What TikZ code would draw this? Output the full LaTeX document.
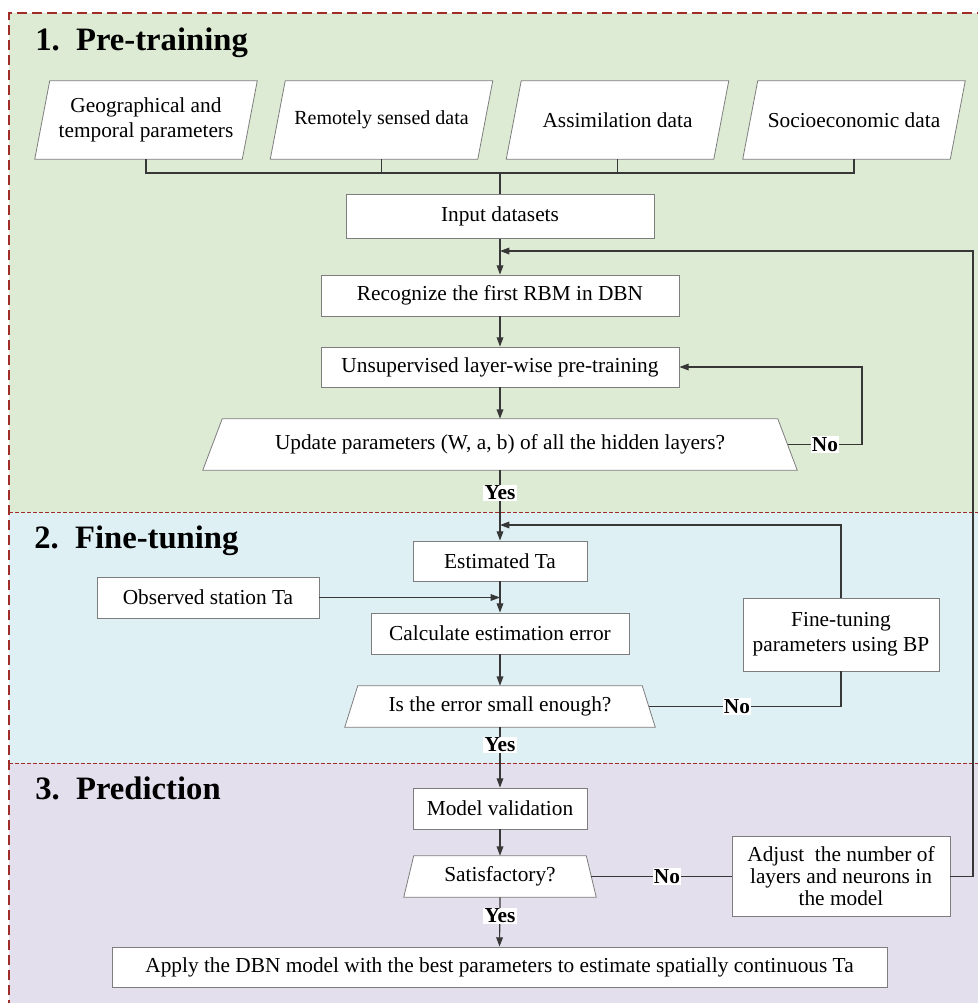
\documentclass[tikz,border=0pt]{standalone}
\usepackage{fontspec}
\setmainfont{Liberation Serif}
\usetikzlibrary{arrows.meta}
\pgfdeclarelayer{bglayer}
\pgfdeclarelayer{shplayer}
\pgfsetlayers{bglayer,shplayer,main}
\definecolor{secgreen}{RGB}{221,235,212}
\definecolor{secblue}{RGB}{223,240,245}
\definecolor{secpurple}{RGB}{227,223,236}
\definecolor{framered}{RGB}{160,45,40}
\definecolor{boxgray}{RGB}{125,125,125}
\definecolor{linegray}{RGB}{55,55,55}
\newcommand\parashape[2]{\filldraw[shp] ([shift={(-#2,0)}]#1.south west) -- ([shift={(#2,0)}]#1.north west) -- ([shift={(#2,0)}]#1.north east) -- ([shift={(-#2,0)}]#1.south east) -- cycle;}
\newcommand\trapshape[2]{\filldraw[shp] ([shift={(-#2,0)}]#1.south west) -- ([shift={(#2,0)}]#1.north west) -- ([shift={(-#2,0)}]#1.north east) -- ([shift={(#2,0)}]#1.south east) -- cycle;}
\tikzset{
 box/.style={draw=boxgray, line width=0.6pt, fill=white, inner sep=0pt, align=center, font=\fontsize{16}{18.5}\selectfont},
 bare/.style={inner sep=0pt, align=center, font=\fontsize{16}{18.5}\selectfont},
 sz/.style 2 args={minimum width=#1*0.75pt, minimum height=#2*0.75pt},
 shp/.style={draw=boxgray, line width=0.6pt, fill=white},
 conn/.style={draw=linegray, line width=0.9pt},
 arr/.style={conn, -{Triangle[length=7pt,width=5pt]}},
 lbl/.style={fill=white, inner sep=1pt, font=\fontsize{16}{18}\selectfont\bfseries},
 ttl/.style={anchor=base west, inner sep=0pt, font=\fontsize{24.5}{30}\selectfont\bfseries},
}
\begin{document}
\begin{tikzpicture}[x=0.75pt,y=-0.75pt]
\useasboundingbox (0,0) rectangle (978,1003);
\begin{pgfonlayer}{bglayer}
\fill[secgreen] (9,13) rectangle (982,512);
\fill[secblue] (9,512) rectangle (982,763);
\fill[secpurple] (9,763) rectangle (982,1010);
\draw[framered, line width=0.6pt, dash pattern=on 3pt off 1.5pt] (9,512) -- (982,512);
\draw[framered, line width=0.6pt, dash pattern=on 3pt off 1.5pt] (9,763) -- (982,763);
\draw[framered, line width=1.3pt, dash pattern=on 7.5pt off 3.75pt] (9,1010) -- (9,13) -- (982,13) -- (982,1010);
\end{pgfonlayer}

\node[ttl] (t1) at (35,50) {1.\ \ Pre-training};
\node[ttl] (t2) at (34,548) {2.\ \ Fine-tuning};
\node[ttl] (t3) at (35,799) {3.\ \ Prediction};

\node[bare, sz={207}{78}] (p1) at (146,120) {Geographical and\\temporal parameters};
\node[bare, sz={207}{78}, font=\fontsize{15}{18}\selectfont] (p2) at (381.5,120) {Remotely sensed data};
\node[bare, sz={207}{78}] (p3) at (617.5,120) {Assimilation data};
\node[bare, sz={207}{78}] (p4) at (854,120) {Socioeconomic data};

\node[box, sz={308}{44}] (input) at (500,216.5) {Input datasets};
\node[box, sz={358}{41}] (rec) at (500,295.5) {Recognize the first RBM in DBN};
\node[box, sz={358}{40}] (uns) at (500,367) {Unsupervised layer-wise pre-training};
\node[bare, sz={574.5}{51}] (upd) at (500,444.5) {Update parameters (W, a, b) of all the hidden layers?};
\node[box, sz={174}{40}] (est) at (500,561) {Estimated Ta};
\node[box, sz={222}{41}] (obs) at (208,597.5) {Observed station Ta};
\node[box, sz={258}{41}] (calc) at (500,633.5) {Calculate estimation error};
\node[bare, sz={297}{41}] (err) at (500,706.5) {Is the error small enough?};
\node[box, sz={196}{73}, font=\fontsize{16}{18.75}\selectfont] (ft) at (841,634.5) {Fine-tuning\\parameters using BP};
\node[box, sz={174}{41}] (mv) at (500,808.5) {Model validation};
\node[bare, sz={182}{41}] (sat) at (500,876.5) {Satisfactory?};
\node[box, sz={218}{80}, font=\fontsize{16}{16.5}\selectfont] (adj) at (841,876.5) {Adjust\ \ the number of\\layers and neurons in\\the model};
\node[box, sz={775}{40}] (apply) at (499.5,967) {Apply the DBN model with the best parameters to estimate spatially continuous Ta};

\begin{pgfonlayer}{shplayer}
\parashape{p1}{7.5}
\parashape{p2}{7.5}
\parashape{p3}{7.5}
\parashape{p4}{7.5}
\trapshape{upd}{9.75}
\trapshape{err}{6.5}
\trapshape{sat}{5}
\end{pgfonlayer}

\coordinate (bus) at (500,173);
\draw[conn] (p1.south) |- (bus) -| (p4.south);
\draw[conn] (p2.south) -- (p2.south |- bus);
\draw[conn] (p3.south) -- (p3.south |- bus);
\draw[conn] (bus) -- (input.north);

\draw[arr] (input.south) -- (rec.north);
\draw[arr] (rec.south) -- (uns.north);
\draw[arr] (uns.south) -- (upd.north);
\coordinate (c1) at (862,367);
\draw[arr] (upd.east) -| (c1) -- (uns.east);
\node[lbl] (no1) at (825,444.5) {No};

\coordinate (c2) at (973,251);
\coordinate (j1) at (500,251);
\draw[arr] (adj.east) -| (c2) -- (j1);

\draw[arr] (upd.south) -- (est.north);
\node[lbl] (yes1) at (500,493) {Yes};
\coordinate (j2) at (500,525);
\draw[arr] (ft.north) |- (j2);
\coordinate (j3) at (500,597.5);
\draw[arr] (obs.east) -- (j3);
\draw[arr] (est.south) -- (calc.north);
\draw[arr] (calc.south) -- (err.north);
\draw[conn] (err.east) -| (ft.south);
\node[lbl] (no2) at (737,706.5) {No};
\draw[arr] (err.south) -- (mv.north);
\node[lbl] (yes2) at (500,745) {Yes};
\draw[arr] (mv.south) -- (sat.north);
\draw[conn] (sat.east) -- (adj.west);
\node[lbl] (no3) at (667,876.5) {No};
\draw[arr] (sat.south) -- (apply.north);
\node[lbl] (yes3) at (500,916) {Yes};
\end{tikzpicture}
\end{document}
